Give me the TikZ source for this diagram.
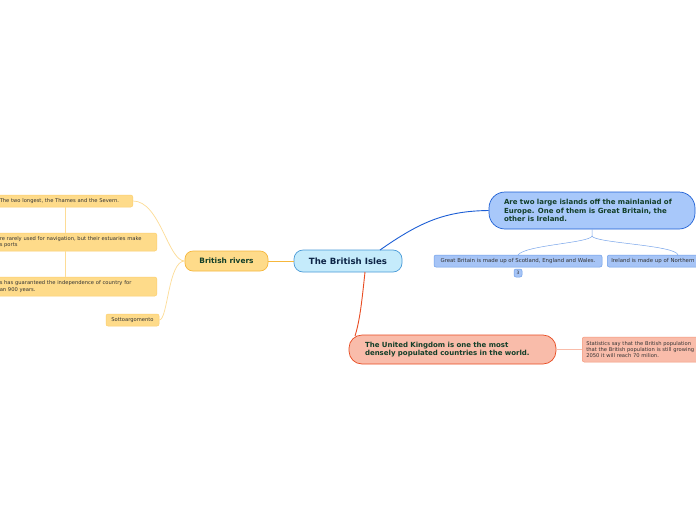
\documentclass[tikz,border=0pt]{standalone}
\usepackage{fontspec}
\setmainfont{DejaVu Sans}
\begin{document}
\begin{tikzpicture}[x=1pt,y=-1pt,
  base/.style={draw,line width=0.7pt,inner sep=0pt,align=left,font=\fontsize{5.2}{6.2}\selectfont,text=black!80},
  central/.style={base,fill={rgb,255:red,197;green,235;blue,251},draw={rgb,255:red,74;green,155;blue,216},rounded corners=9pt,minimum width=108pt,minimum height=22pt,align=center,font=\bfseries\fontsize{8.6}{10}\selectfont,text={rgb,255:red,12;green,36;blue,70}},
  ymain/.style={base,fill={rgb,255:red,254;green,219;blue,138},draw={rgb,255:red,246;green,183;blue,60},rounded corners=8pt,align=center,font=\bfseries\fontsize{7.4}{8.5}\selectfont,text={rgb,255:red,18;green,62;blue,40}},
  ysub/.style={base,fill={rgb,255:red,254;green,219;blue,138},draw={rgb,255:red,252;green,207;blue,110},rounded corners=2pt,line width=0.5pt},
  bmain/.style={base,fill={rgb,255:red,168;green,200;blue,250},draw={rgb,255:red,29;green,95;blue,213},rounded corners=16pt,font=\bfseries\fontsize{7}{8.2}\selectfont,text={rgb,255:red,18;green,62;blue,40}},
  bsub/.style={base,fill={rgb,255:red,166;green,196;blue,246},draw={rgb,255:red,109;green,158;blue,233},rounded corners=2pt,line width=0.5pt},
  rmain/.style={base,fill={rgb,255:red,249;green,188;blue,170},draw={rgb,255:red,232;green,76;blue,34},rounded corners=13pt,font=\bfseries\fontsize{7}{8.6}\selectfont,text={rgb,255:red,18;green,62;blue,40}},
  rsub/.style={base,fill={rgb,255:red,249;green,188;blue,170},draw={rgb,255:red,244;green,150;blue,120},rounded corners=2pt,line width=0.5pt},
  ylink/.style={draw={rgb,255:red,253;green,220;blue,150},line width=0.7pt},
  ymainlink/.style={draw={rgb,255:red,246;green,183;blue,60},line width=0.9pt},
  blink/.style={draw={rgb,255:red,29;green,95;blue,213},line width=0.9pt},
  blight/.style={draw={rgb,255:red,120;green,165;blue,235},line width=0.5pt},
  rlink/.style={draw={rgb,255:red,232;green,76;blue,34},line width=0.9pt},
  rlight/.style={draw={rgb,255:red,249;green,188;blue,170},line width=0.8pt}]
\useasboundingbox (0,0) rectangle (696,520);
\clip (0,0) rectangle (696,520);
\fill[white] (0,0) rectangle (696,520);

% nodes
\node[central] (center) at (348,261) {The British Isles};
\node[ymain,minimum width=83pt,minimum height=20pt] (rivers) at (226.5,261) {British rivers};
\node[bmain,minimum width=206pt,minimum height=37pt,text width=176pt] (blue) at (592,210.5) {Are two large islands off the mainlaniad of\\Europe. One of them is Great Britain, the\\other is Ireland.};
\node[rmain,minimum width=207pt,minimum height=29pt,text width=175pt] (red) at (452.5,349.5) {The United Kingdom is one the most\\densely populated countries in the world.};

\node[bsub,minimum width=168pt,minimum height=12pt,align=center,font=\fontsize{5.4}{6.2}\selectfont] (gb) at (518,261) {Great Britain is made up of Scotland, England and Wales.};
\node[bsub,anchor=west,minimum height=12pt,minimum width=110pt,text width=104pt,inner xsep=4pt,font=\fontsize{5.4}{6.2}\selectfont] (ire) at (607,261) {Ireland is made up of Northern};
\node[bsub,minimum width=8pt,minimum height=8pt,align=center,font=\fontsize{4.5}{5}\selectfont] (badge) at (518,273) {3};
\node[rsub,anchor=west,minimum height=25pt,minimum width=130pt,text width=124pt,inner xsep=4pt] (stats) at (582,349.5) {Statistics say that the British population\\that the British population is still growing\\2050 it will reach 70 milion.};

\node[ysub,anchor=east,minimum height=12pt,minimum width=135pt,text width=130pt,inner xsep=3pt] (y1) at (133,201) {The two longest, the Thames and the Severn.};
\node[ysub,anchor=east,minimum height=18pt,minimum width=159pt,text width=154pt,inner xsep=3pt] (y2) at (157,242) {re rarely used for navigation, but their estuaries make\\s ports};
\node[ysub,anchor=east,minimum height=19pt,minimum width=159pt,text width=154pt,inner xsep=3pt] (y3) at (157,286.5) {s has guaranteed the independence of country for\\an 900 years.};
\node[ysub,minimum width=53pt,minimum height=12pt,align=center] (sotto) at (132.5,320) {Sottoargomento};

% connectors
\coordinate (vx) at (65,0);
\coordinate (bstart) at (380,250);
\coordinate (rstart) at (365,272);
\coordinate (brace) at (592,236);
\coordinate (gbtop) at (518,255);
\coordinate (iretop) at (678,255);

\draw[ymainlink] (center.west) -- (rivers.east);
\draw[ylink] (rivers.west) .. controls (168,261) and (160,201) .. (y1.east);
\draw[ylink] (rivers.west) .. controls (168,261) and (168,320) .. (sotto.east);
\draw[ylink] (y1.south -| vx) -- (y2.north -| vx);
\draw[ylink] (y2.south -| vx) -- (y3.north -| vx);
\draw[blink] (bstart) .. controls (420,222) and (445,211) .. (blue.west);
\draw[rlink] (rstart) .. controls (362,300) and (360,320) .. (355,336);
\draw[blight] (blue.south) -- (brace) .. controls (590,243) and (525,245) .. (gbtop);
\draw[blight] (brace) .. controls (594,243) and (676,245) .. (iretop);
\draw[rlight] (red.east) -- (stats.west);
\end{tikzpicture}
\end{document}
